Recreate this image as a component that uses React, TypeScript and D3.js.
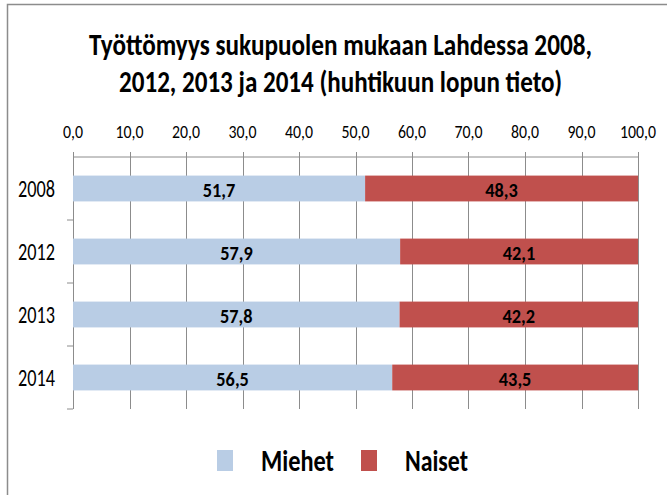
import React from "react";
import * as d3 from "d3";

const years = ["2008", "2012", "2013", "2014"];
const miehet = [51.7, 57.9, 57.8, 56.5];
const naiset = [48.3, 42.1, 42.2, 43.5];
const xTicks = [0, 10, 20, 30, 40, 50, 60, 70, 80, 90, 100];
const seriesNames = ["Miehet", "Naiset"];
const colors = ["#B9CDE5", "#C0504D"];
const titleLines = [
  "Työttömyys sukupuolen mukaan Lahdessa 2008,",
  "2012, 2013 ja 2014 (huhtikuun lopun tieto)",
];

const FONT = "Carlito, Calibri, Lato, 'Open Sans', sans-serif";
const fmt = (v: number) => v.toFixed(1).replace(".", ",");
// approximate width of a numeric label in the reference
const numWidth = (s: string, digit: number, comma: number) =>
  s.split("").reduce((a, c) => a + (c === "," ? comma : digit), 0);

export default function App() {
  const W = 667, H = 495;
  const left = 73, right = 638, top = 157, bottom = 409;
  const x = d3.scaleLinear().domain([0, 100]).range([left, right]);
  const y = d3.scaleBand<string>().domain(years).range([top, bottom]).paddingInner(0.59).paddingOuter(0.295);
  const gridColor = "#8C8C8C";
  const bandTicks = d3.range(years.length + 1).map((i) => top + (i * (bottom - top)) / years.length);

  return (
    <svg width={W} height={H} style={{ position: "absolute", left: 0, top: 0 }}>
      <rect x={0} y={0} width={W} height={H} fill="#fff" />
      <rect x={7.5} y={4.5} width={W + 20} height={H + 20} fill="none" stroke="#8C8C8C" strokeWidth={1.5} />
      {titleLines.map((t, i) => (
        <g key={i} transform={`translate(${i === 0 ? 89 : 119},${i === 0 ? 54.5 : 91.5}) scale(1,1.24)`}>
          <text x={0} y={0} textLength={i === 0 ? 503 : 443} lengthAdjust="spacingAndGlyphs"
            fontFamily={FONT} fontWeight="bold" fontSize={25} fill="#000">{t}</text>
        </g>
      ))}
      {/* top axis */}
      <line x1={left} x2={right} y1={top} y2={top} stroke={gridColor} />
      {xTicks.map((t) => {
        const s = fmt(t);
        const w = numWidth(s, 8, 4);
        return (
          <g key={t}>
            <line x1={Math.round(x(t)) + 0.5} x2={Math.round(x(t)) + 0.5} y1={top - 5} y2={bottom} stroke={gridColor} />
            <text x={x(t) - w / 2} y={138} textLength={w} lengthAdjust="spacingAndGlyphs" fontFamily={FONT} fontSize={17.5} fill="#000">{s}</text>
          </g>
        );
      })}
      {/* left axis */}
      <line x1={left + 0.5} x2={left + 0.5} y1={top} y2={bottom} stroke={gridColor} />
      {bandTicks.slice(1).map((v, i) => (
        <line key={i} x1={left - 6} x2={left} y1={v} y2={v} stroke={gridColor} />
      ))}
      {years.map((yr, i) => {
        const y0 = y(yr)!;
        const bh = y.bandwidth();
        const cy = y0 + bh / 2;
        const ml = fmt(miehet[i]);
        const nl = fmt(naiset[i]);
        const mw = numWidth(ml, 9.5, 4);
        const nw = numWidth(nl, 9.5, 4);
        const mc = (x(0) + x(miehet[i])) / 2;
        const nc = (x(miehet[i]) + x(miehet[i] + naiset[i])) / 2;
        return (
          <g key={yr}>
            <text x={55} y={cy + 8} textAnchor="end" textLength={37} lengthAdjust="spacingAndGlyphs" fontFamily={FONT} fontSize={23.5} fill="#000">{yr}</text>
            <rect x={x(0)} y={y0} width={x(miehet[i]) - x(0)} height={bh} fill={colors[0]} />
            <rect x={x(miehet[i])} y={y0} width={x(miehet[i] + naiset[i]) - x(miehet[i])} height={bh} fill={colors[1]} />
            <text x={mc - mw / 2} y={cy + 8} textLength={mw} lengthAdjust="spacingAndGlyphs" fontFamily={FONT} fontWeight="bold" fontSize={21} fill="#000">{ml}</text>
            <text x={nc - nw / 2} y={cy + 8} textLength={nw} lengthAdjust="spacingAndGlyphs" fontFamily={FONT} fontWeight="bold" fontSize={21} fill="#000">{nl}</text>
          </g>
        );
      })}
      {/* legend */}
      {seriesNames.map((n, i) => {
        const sx = i === 0 ? 217 : 361;
        const tx = i === 0 ? 261 : 405;
        return (
          <g key={n}>
            <rect x={sx} y={450} width={16} height={21} fill={colors[i]} />
            <text x={tx} y={470.5} textLength={i === 0 ? 73 : 63} lengthAdjust="spacingAndGlyphs" fontFamily={FONT} fontWeight="bold" fontSize={31} fill="#000">{n}</text>
          </g>
        );
      })}
    </svg>
  );
}
